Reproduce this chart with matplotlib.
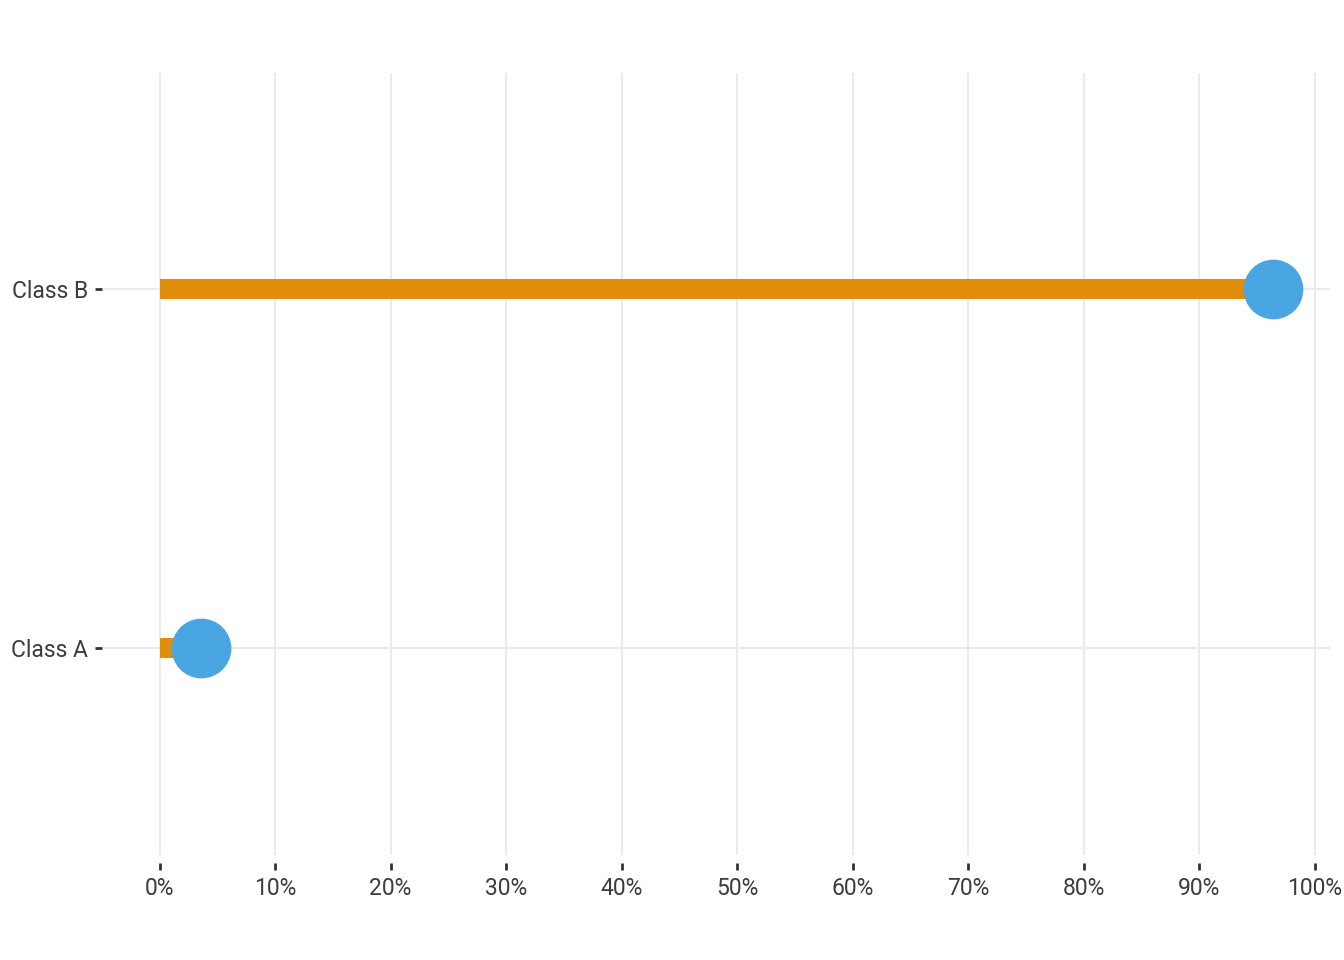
import matplotlib
matplotlib.use("Agg")
import matplotlib.pyplot as plt
from matplotlib.ticker import PercentFormatter

categories = ["Class A", "Class B"]
values = [0.036, 0.964]
x_ticks = [0.0, 0.1, 0.2, 0.3, 0.4, 0.5, 0.6, 0.7, 0.8, 0.9, 1.0]

plt.rcParams['font.family'] = ['Roboto', 'DejaVu Sans']

fig = plt.figure(figsize=(13.44, 9.6), dpi=100)
ax = fig.add_axes([103/1344, 1 - 855/960, (1330-103)/1344, (855-73)/960])

ypos = list(range(1, len(categories) + 1))
ax.hlines(ypos, 0, values, color="#E08E0B", lw=14.4, zorder=3, capstyle="butt")
ax.plot(values, ypos, "o", ms=43, color="#4AA6E2", mec="none", zorder=4)

ax.set_xlim(-0.049, 1.013)
ax.set_ylim(0.423, 2.60)
ax.set_xticks(x_ticks)
ax.xaxis.set_major_formatter(PercentFormatter(1.0, decimals=0))
ax.set_yticks(ypos)
ax.set_yticklabels(categories)

ax.grid(True, color="#EBEBEB", lw=1.5, zorder=0)
ax.set_axisbelow(True)
for s in ax.spines.values():
    s.set_visible(False)
ax.spines['bottom'].set_position(('outward', 6))
ax.spines['left'].set_position(('outward', 1))
ax.tick_params(axis="both", colors="#333333", labelcolor="#3C3C3C", labelsize=16.5,
               length=5, width=2)
ax.tick_params(axis="x", pad=5)
ax.tick_params(axis="y", pad=5)

fig.savefig("out.png", dpi=100, facecolor="white")
